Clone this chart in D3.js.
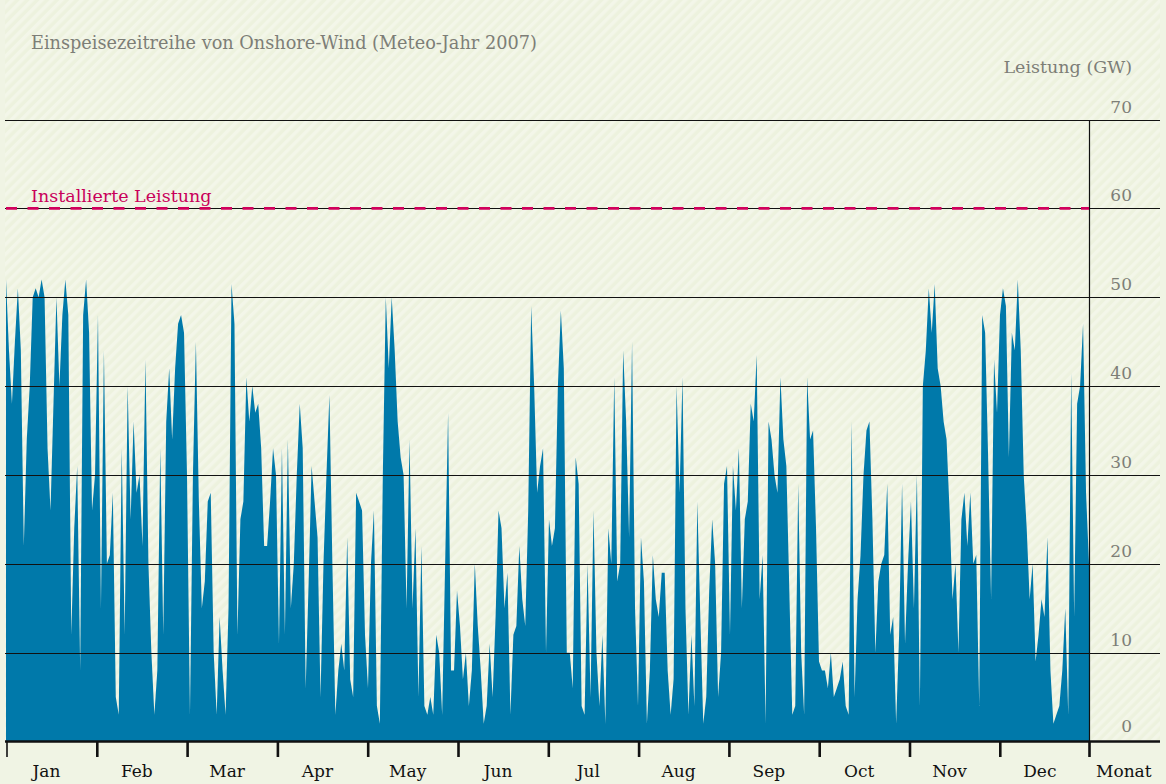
<!DOCTYPE html>
<html lang="de">
<head>
<meta charset="utf-8">
<title>Einspeisezeitreihe von Onshore-Wind</title>
<script src="https://cdn.jsdelivr.net/npm/d3@7/dist/d3.min.js"></script>
<style>
  html, body { margin: 0; padding: 0; background: #f0f4e4; }
  svg { display: block; font-family: "DejaVu Serif", "Liberation Serif", serif; }
</style>
</head>
<body>
<svg id="chart" width="1166" height="784"></svg>
<script>
// Onshore wind feed-in, daily values in GW (meteorological year 2007)
const startDate = "2007-01-01";
const feedIn = [
  52, 44, 38, 45, 51, 44, 22, 34, 40, 50,
  51, 50, 52, 50, 33, 26, 38, 50, 40, 48,
  52, 48, 12, 24, 31, 8, 48, 52, 46, 26,
  30, 48, 15, 44, 20, 21, 28, 5, 3, 33,
  12, 40, 25, 36, 28, 30, 22, 43, 20, 10,
  3, 8, 33, 12, 36, 42, 34, 42, 47, 48,
  46, 30, 3, 30, 45, 27, 15, 18, 27, 28,
  10, 3, 14, 8, 3, 15, 51.5, 47, 12, 25,
  27, 41, 36, 40, 37, 38, 33, 22, 22, 27,
  33, 30, 11, 33, 12, 34, 15, 20, 30, 38,
  33, 6, 18, 31, 27, 23, 5, 20, 30, 39,
  20, 3, 8, 11, 8, 23, 7, 5, 28, 27,
  26, 12, 6, 20, 26, 4, 2, 30, 50, 42,
  50, 44, 36, 32, 30, 15, 34, 15, 24, 5,
  22, 4, 3, 5, 3, 12, 10, 3, 20, 37,
  8, 8, 17, 13, 7, 10, 4, 8, 20, 13,
  8, 2, 4, 11, 5, 14, 26, 24, 15, 19,
  3, 12, 13, 22, 16, 13, 26, 49, 40, 28,
  31, 33, 10, 25, 22, 24, 40, 48.5, 42, 10,
  10, 6, 32, 29, 4, 3, 20, 5, 26, 10,
  4, 12, 2, 24, 20, 41, 18, 20, 44, 36,
  23, 45, 15, 4, 23, 18, 2, 8, 21, 16,
  14, 19, 19, 8, 3, 7, 40, 28, 41, 15,
  3, 12, 4, 27, 14, 2, 5, 17, 25, 20,
  5, 10, 29, 31, 12, 31, 26, 33, 15, 25,
  27, 38, 36, 43.5, 16, 21, 2, 36, 34, 30,
  28, 41, 34, 31, 17, 3, 4, 29, 10, 3,
  41, 34, 35, 24, 9, 8, 8, 6, 10, 5,
  6, 7, 9, 4, 3, 36, 5, 16, 21, 30,
  35, 36, 25, 10, 18, 20, 21, 29, 12, 14,
  2, 12, 29, 11, 20, 27, 15, 30, 4, 40,
  44, 51, 46, 51.5, 42, 40, 36, 34, 26, 16,
  20, 10, 25, 28, 22, 28, 20, 21, 4, 48,
  46, 32, 16, 43, 37, 48, 51, 49, 32, 46,
  44, 52, 44, 30, 24, 16, 20, 9, 12, 16,
  14, 23, 8, 2, 3, 4, 8, 15, 3, 41.5,
  14, 38, 40, 47, 28, 20
];
const installedCapacity = 60;
const yTicks = [0, 10, 20, 30, 40, 50, 60, 70];
const monthLabels = ["Jan", "Feb", "Mar", "Apr", "May", "Jun", "Jul", "Aug", "Sep", "Oct", "Nov", "Dec"];
const titleText = "Einspeisezeitreihe von Onshore-Wind (Meteo-Jahr 2007)";
const unitText = "Leistung (GW)";
const capacityText = "Installierte Leistung";
const xAxisText = "Monat";

const W = 1166, H = 784;
const svg = d3.select("#chart");
const parse = d3.utcParse("%Y-%m-%d");
const t0 = parse(startDate);
const t1 = d3.utcYear.offset(t0, 1);
const series = feedIn.map((v, i) => ({ date: d3.utcDay.offset(t0, i), value: v }));

const x = d3.scaleUtc().domain([t0, t1]).range([6, 1089]);
// month axis: twelve equal slots
const xMonth = d3.scaleLinear().domain([0, 12]).range([7, 1090.6]);
const y = d3.scaleLinear().domain([0, 70]).range([741.5, 119.5]);

// striped backdrop
const defs = svg.append("defs");
const pat = defs.append("pattern")
  .attr("id", "stripes")
  .attr("patternUnits", "userSpaceOnUse")
  .attr("width", 7).attr("height", 7)
  .attr("patternTransform", "rotate(45)");
pat.append("rect").attr("width", 7).attr("height", 7).attr("fill", "#edf2de");
pat.append("rect").attr("width", 3.5).attr("height", 7).attr("fill", "#f3f6e9");

svg.append("rect").attr("width", W).attr("height", H).attr("fill", "#f0f4e4");
svg.append("rect").attr("x", 5).attr("y", 0).attr("width", 1155).attr("height", 741)
  .attr("fill", "url(#stripes)");

// title and unit
svg.append("text").attr("x", 31).attr("y", 49)
  .attr("fill", "#7d7e77").attr("font-size", 17.7).text(titleText);
svg.append("text").attr("x", 1132).attr("y", 73).attr("text-anchor", "end")
  .attr("fill", "#7d7e77").attr("font-size", 17.5).text(unitText);

// area
const area = d3.area()
  .x(d => x(d.date))
  .y0(y(0))
  .y1(d => y(d.value));
svg.append("path").datum(series)
  .attr("d", area)
  .attr("fill", "#0079aa");

// horizontal grid lines
svg.append("g").selectAll("line").data(yTicks.filter(v => v > 0)).join("line")
  .attr("x1", 5).attr("x2", 1160)
  .attr("y1", d => Math.round(y(d)) + 0.5).attr("y2", d => Math.round(y(d)) + 0.5)
  .attr("stroke", "#111").attr("stroke-width", 1.1);

// right frame line
svg.append("line")
  .attr("x1", 1089.5).attr("x2", 1089.5)
  .attr("y1", Math.round(y(70)) + 0.5).attr("y2", y(0))
  .attr("stroke", "#111").attr("stroke-width", 1.2);

// y labels
svg.append("g").selectAll("text").data(yTicks).join("text")
  .attr("x", 1132).attr("y", d => y(d) - (d === 0 ? 10 : 7))
  .attr("text-anchor", "end")
  .attr("fill", "#7d7e77").attr("font-size", 17)
  .text(d => d);

// installed capacity
svg.append("line")
  .attr("x1", 6).attr("x2", 1089)
  .attr("y1", y(installedCapacity)).attr("y2", y(installedCapacity))
  .attr("stroke", "#d1005c").attr("stroke-width", 2.6)
  .attr("stroke-dasharray", "11,10.5");
svg.append("text").attr("x", 31).attr("y", 202)
  .attr("fill", "#c9005a").attr("font-size", 17.5).text(capacityText);

// x axis
const gx = svg.append("g");
gx.append("line").attr("x1", 5).attr("x2", 1160)
  .attr("y1", 741.5).attr("y2", 741.5)
  .attr("stroke", "#111").attr("stroke-width", 2.4);
const tickPos = d3.range(12).map(i => xMonth(i)).concat([x(t1) + 0.5]);
gx.selectAll("line.tick").data(tickPos).join("line")
  .attr("class", "tick")
  .attr("x1", d => d).attr("x2", d => d)
  .attr("y1", 741).attr("y2", 757)
  .attr("stroke", "#111").attr("stroke-width", (d, i) => i === 0 ? 1.6 : 2.6);
gx.selectAll("text").data(monthLabels).join("text")
  .attr("x", (d, i) => xMonth(i) + 39.5)
  .attr("y", 777)
  .attr("text-anchor", "middle")
  .attr("fill", "#111").attr("font-size", 17)
  .text(d => d);
svg.append("text").attr("x", 1096).attr("y", 777)
  .attr("fill", "#111").attr("font-size", 17).text(xAxisText);
</script>
</body>
</html>
